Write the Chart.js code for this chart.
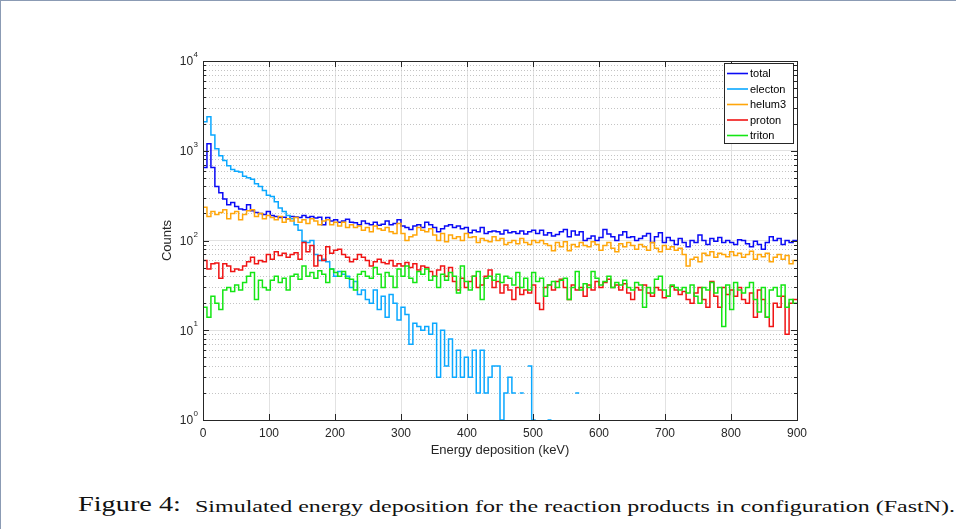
<!DOCTYPE html>
<html>
<head>
<meta charset="utf-8">
<script src="https://cdn.jsdelivr.net/npm/chart.js@4.4.0/dist/chart.umd.min.js"></script>
<style>
  html, body { margin: 0; padding: 0; background: #fff; }
  #page { position: relative; width: 956px; height: 529px; overflow: hidden; background: #fff; }
  #frameTop { position: absolute; left: 0; top: 0; width: 956px; height: 1px; background: #8b9bb4; }
  #frameLeft { position: absolute; left: 0; top: 0; width: 1px; height: 529px; background: #8b9bb4; }
  #wrap { position: absolute; left: 0; top: 0; width: 956px; height: 461px; }
  .cap { position: absolute; white-space: nowrap; font-family: "Liberation Serif", "Times New Roman", serif;
         color: #111; line-height: 1; transform-origin: left top; }
</style>
</head>
<body>
<div id="page">
  <div id="wrap"><canvas id="histChart"></canvas></div>
  <div id="frameTop"></div>
  <div id="frameLeft"></div>
  <span class="cap" data-w="103" style="left:78px; top:494px; font-size:21px;">Figure 4:</span>
  <span class="cap" data-w="760" style="left:195px; top:498px; font-size:17px;">Simulated energy deposition for the reaction products in configuration (FastN).</span>
</div>
<script>
// histogram bins: 150 bins of 6 keV from 0 to 900 keV
const binWidth = 6;
const xMin = 0;
const xMax = 900;
const xTicks = [0, 100, 200, 300, 400, 500, 600, 700, 800, 900];
const yTicks = [1, 10, 100, 1000, 10000];

const seriesNames = ["total", "electon", "helum3", "proton", "triton"];
const seriesColors = ["#0a0af5", "#0aa8ff", "#ffa60a", "#f01414", "#14e614"];

const total = [
  650, 1200, 650, 400, 340, 290, 250, 265, 240, 225, 220, 250,
  215, 205, 200, 195, 210, 190, 185, 180, 182, 175, 185, 183, 180,
  190, 180, 185, 178, 182, 150, 180, 165, 170, 160, 165, 172,
  160, 158, 150, 165, 155, 150, 160, 148, 152, 165, 150, 155,
  170, 145, 140, 133, 145, 150, 140, 160, 150, 140, 125, 135,
  145, 150, 140, 145, 135, 140, 122, 130, 125, 140, 120, 125,
  128, 125, 118, 130, 122, 125, 120, 128, 118, 125, 130, 120,
  130, 115, 122, 112, 117, 125, 133, 110, 128, 115, 125, 100,
  105, 112, 100, 108, 133, 118, 110, 100, 115, 125, 108, 110,
  100, 105, 112, 120, 95, 110, 122, 95, 108, 100, 90, 105,
  95, 85, 100, 95, 115, 100, 90, 105, 98, 108, 95, 100,
  95, 90, 102, 100, 92, 85, 98, 90, 80, 95, 110, 100, 105, 90, 100, 95, 100
];

const electon = [
  2100, 2400, 1500, 1050, 880, 780, 680, 620, 590, 580, 520, 500,
  480, 430, 400, 360, 320, 310, 270, 230, 210, 190, 175, 150, 130,
  98, 95, 100, 70, 60, 62, 58, 48, 40, 45, 42, 40,
  30, 35, 25, 28, 22, 20, 28, 17, 24, 14, 25, 20,
  13, 18, 15, 7, 12, 11, 10, 11, 9, 12, 3, 10,
  4, 8, 3, 6, 3, 5, 3, 6, 2, 6, 2, 3,
  4, 4, 1, 2, 3, 2, null, 2, null, 4, 1, null,
  null, null, 1, null, null, null, null, null, null, 2, null, null,
  null, null, null, null, null, null, null, null, null, null, null, null,
  null, null, null, null, null, null, null, null, null, null, null, null,
  null, null, null, null, null, null, null, null, null, null, null, null,
  null, null, null, null, null, null, null, null, null, null, null, null, null, null, null, null, null
];

const helum3 = [
  235, 185, 210, 195, 205, 220, 175, 200, 210, 170, 195, 215,
  220, 185, 200, 175, 190, 180, 170, 185, 160, 175, 165, 180, 160,
  170, 155, 175, 165, 150, 165, 170, 150, 160, 145, 160, 140,
  150, 140, 145, 130, 140, 125, 145, 135, 130, 140, 125, 120,
  155, 120, 100, 110, 115, 140, 130, 125, 135, 115, 100, 120,
  97, 115, 105, 110, 100, 120, 108, 110, 95, 105, 100, 97,
  110, 100, 105, 90, 95, 100, 92, 105, 95, 90, 100, 95,
  100, 92, 88, 77, 95, 85, 97, 77, 90, 85, 95, 88,
  85, 97, 90, 78, 88, 95, 82, 75, 92, 85, 95, 88,
  80, 90, 85, 78, 95, 82, 75, 88, 80, 85, 78, 82,
  70, 52, 62, 65, 58, 72, 68, 75, 65, 72, 70, 66,
  75, 68, 72, 65, 70, 76, 62, 70, 66, 72, 58, 65, 70, 62, 68, 55, 60
];

const proton = [
  60, 48, 55, 56, 38, 55, 52, 45, 48, 47, 52, 58,
  65, 55, 60, 58, 70, 62, 75, 68, 72, 65, 70, 73, 62,
  95, 75, 88, 52, 68, 60, 85, 72, 78, 80, 70, 65,
  58, 62, 70, 65, 60, 52, 58, 62, 57, 55, 60, 52,
  55, 52, 57, 50, 55, 47, 52, 50, 45, 40, 47, 52,
  40, 50, 35, 28, 38, 30, 35, 40, 30, 32, 40, 47,
  30, 35, 26, 32, 28, 22, 30, 25, 28, 26, 32, 20,
  17, 30, 32, 28, 35, 37, 30, 22, 32, 28, 30, 24,
  32, 28, 35, 30, 34, 37, 30, 32, 28, 33, 26, 22,
  30, 28, 32, 26, 24, 30, 28, 23, 24, 31, 28, 25,
  27, 22, 20, 26, 30, 22, 18, 35, 24, 18, 30, 25,
  28, 24, 30, 22, 20, 26, 14, 28, 22, 14, 11, 20, 18, 24, 9, 20, 22
];

const triton = [
  18, 14, 24, 20, 17, 28, 30, 27, 32, 28, 34, 40,
  44, 22, 36, 30, 28, 36, 40, 34, 38, 28, 40, 42, 37,
  52, 40, 44, 38, 46, 42, 34, 48, 44, 40, 45, 38,
  37, 28, 42, 45, 40, 38, 50, 42, 30, 44, 40, 30,
  48, 40, 52, 38, 34, 45, 42, 48, 36, 40, 30, 42,
  36, 44, 40, 26, 52, 35, 28, 40, 45, 22, 38, 40,
  36, 42, 34, 40, 38, 32, 44, 30, 38, 28, 44, 35,
  38, 24, 32, 35, 30, 36, 38, 22, 30, 45, 28, 33,
  30, 45, 38, 32, 35, 40, 30, 34, 32, 36, 30, 28,
  34, 32, 18, 30, 26, 37, 40, 28, 24, 32, 30, 28,
  30, 26, 32, 24, 20, 30, 28, 34, 26, 30, 11, 32,
  17, 34, 28, 26, 30, 34, 22, 16, 30, 14, 28, 30, 24, 32, 18, 22, 20
];

const seriesValues = [total, electon, helum3, proton, triton];

const axisColor = "#262626";
const fontFamily = "'Liberation Sans', Arial, sans-serif";

// each bin becomes a flat step; empty bins break the line
function histPoints(values) {
  const pts = [];
  values.forEach((v, i) => {
    const x0 = xMin + i * binWidth;
    if (v === null) {
      pts.push({ x: x0, y: null });
      return;
    }
    pts.push({ x: x0, y: v }, { x: x0 + binWidth, y: v });
  });
  return pts;
}

const framePlugin = {
  id: "frame",
  beforeDatasetsDraw(chart) {
    const { ctx, chartArea: a, scales: { y } } = chart;
    ctx.save();
    ctx.strokeStyle = "#c4c4c4";
    ctx.lineWidth = 1;
    ctx.setLineDash([1, 2]);
    for (let d = 1; d < 10000; d *= 10) {
      for (let k = 2; k <= 9; k++) {
        const py = Math.round(y.getPixelForValue(d * k)) + 0.5;
        ctx.beginPath();
        ctx.moveTo(a.left, py);
        ctx.lineTo(a.right, py);
        ctx.stroke();
      }
    }
    ctx.restore();
  },
  afterDatasetsDraw(chart) {
    const { ctx, chartArea: a, scales: { x, y } } = chart;
    ctx.save();
    ctx.strokeStyle = axisColor;
    ctx.lineWidth = 1;
    ctx.setLineDash([]);
    ctx.strokeRect(Math.round(a.left) + 0.5, Math.round(a.top) + 0.5,
      Math.round(a.right - a.left), Math.round(a.bottom - a.top));

    // inward tick marks
    ctx.beginPath();
    xTicks.forEach(v => {
      const px = Math.round(x.getPixelForValue(v)) + 0.5;
      ctx.moveTo(px, a.bottom); ctx.lineTo(px, a.bottom - 6);
      ctx.moveTo(px, a.top); ctx.lineTo(px, a.top + 6);
    });
    for (let d = 1; d <= 10000; d *= 10) {
      for (let k = 1; k <= 9; k++) {
        const v = d * k;
        if (v > 10000) break;
        const len = k === 1 ? 6 : 3;
        const py = Math.round(y.getPixelForValue(v)) + 0.5;
        ctx.moveTo(a.left, py); ctx.lineTo(a.left + len, py);
        ctx.moveTo(a.right, py); ctx.lineTo(a.right - len, py);
      }
    }
    ctx.stroke();

    // y tick labels as 10 with exponent
    ctx.fillStyle = axisColor;
    ctx.textBaseline = "middle";
    ctx.textAlign = "right";
    yTicks.forEach(v => {
      const py = y.getPixelForValue(v);
      const exp = String(Math.round(Math.log10(v)));
      ctx.font = "8px " + fontFamily;
      const ew = ctx.measureText(exp).width;
      ctx.fillText(exp, a.left - 5, py - 6);
      ctx.font = "12px " + fontFamily;
      ctx.fillText("10", a.left - 5 - ew - 0.5, py + 1);
    });

    // legend box
    const boxR = Math.round(a.right) - 4, boxT = Math.round(a.top) + 2;
    const boxW = 69, boxH = 80;
    const boxL = boxR - boxW;
    ctx.fillStyle = "#fff";
    ctx.fillRect(boxL, boxT, boxW, boxH);
    ctx.strokeStyle = "#262626";
    ctx.strokeRect(boxL + 0.5, boxT + 0.5, boxW, boxH);
    ctx.font = "11px " + fontFamily;
    ctx.textAlign = "left";
    seriesNames.forEach((name, i) => {
      const ly = boxT + 10.5 + i * 15.5;
      ctx.strokeStyle = seriesColors[i];
      ctx.lineWidth = 1.6;
      ctx.beginPath();
      ctx.moveTo(boxL + 3, ly);
      ctx.lineTo(boxL + 24, ly);
      ctx.stroke();
      ctx.fillStyle = "#000";
      ctx.fillText(name, boxL + 26, ly + 0.5);
    });
    ctx.restore();
  }
};

const ctx = document.getElementById("histChart").getContext("2d");

new Chart(ctx, {
  type: "line",
  data: {
    datasets: seriesNames.map((name, i) => ({
      label: name,
      data: histPoints(seriesValues[i]),
      borderColor: seriesColors[i],
      backgroundColor: seriesColors[i],
      borderWidth: 1.5,
      pointRadius: 0,
      spanGaps: false,
      fill: false,
      tension: 0,
      order: seriesNames.length - i
    }))
  },
  options: {
    responsive: true,
    maintainAspectRatio: false,
    devicePixelRatio: 1,
    animation: false,
    events: [],
    layout: { padding: { left: 157, right: 159, top: 61, bottom: 0 } },
    plugins: {
      legend: { display: false },
      tooltip: { enabled: false }
    },
    scales: {
      x: {
        type: "linear",
        min: xMin,
        max: xMax,
        afterBuildTicks: s => { s.ticks = xTicks.map(v => ({ value: v })); },
        afterFit: s => { s.height = 41; },
        ticks: {
          color: axisColor,
          font: { family: fontFamily, size: 12 },
          padding: 6,
          maxRotation: 0,
          autoSkip: false
        },
        grid: { color: "#e2e2e2", lineWidth: 1, drawTicks: false },
        border: { display: false },
        title: {
          display: true,
          text: "Energy deposition (keV)",
          color: axisColor,
          font: { family: fontFamily, size: 13 },
          padding: { top: 2, bottom: 3 }
        }
      },
      y: {
        type: "logarithmic",
        min: 1,
        max: 10000,
        afterBuildTicks: s => { s.ticks = yTicks.map(v => ({ value: v, major: true })); },
        afterFit: s => { s.width = 46; },
        ticks: { display: false },
        grid: { color: "#e2e2e2", lineWidth: 1, drawTicks: false },
        border: { display: false },
        title: {
          display: true,
          text: "Counts",
          color: axisColor,
          font: { family: fontFamily, size: 13 },
          padding: { top: 3, bottom: 3 }
        }
      }
    }
  },
  plugins: [framePlugin]
});

// stretch the caption pieces to the widths they have in the figure
document.querySelectorAll(".cap").forEach(el => {
  const w = el.getBoundingClientRect().width;
  el.style.transform = "scaleX(" + (el.dataset.w / w) + ")";
});
</script>
</body>
</html>
